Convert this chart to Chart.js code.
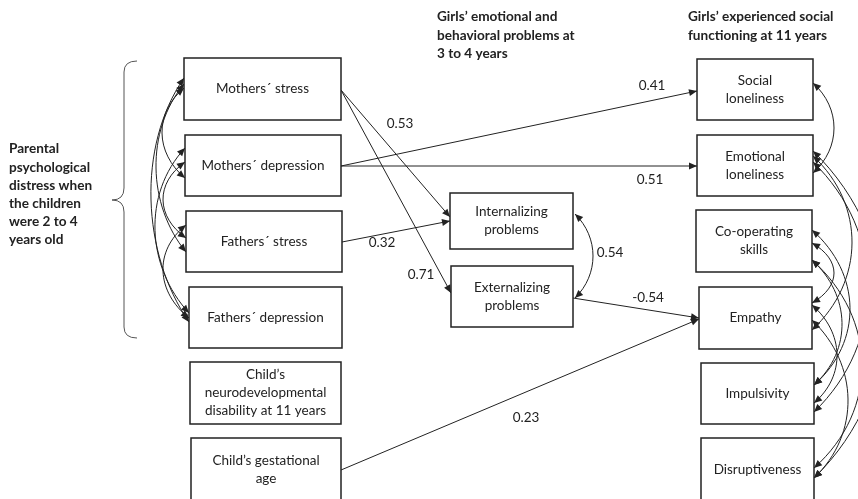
<!DOCTYPE html>
<html>
<head>
<meta charset="utf-8">
<script src="https://cdn.jsdelivr.net/npm/chart.js@4.4.1/dist/chart.umd.min.js"></script>
<style>
  html, body { margin: 0; padding: 0; background: #ffffff; }
  #wrap { width: 858px; height: 499px; position: relative; }
</style>
</head>
<body>
<div id="wrap"><canvas id="diagram"></canvas></div>
<script>
// Variables (boxes) of the path model
const nodeNames = [
  "Mothers´ stress",
  "Mothers´ depression",
  "Fathers´ stress",
  "Fathers´ depression",
  "Child’s\nneurodevelopmental\ndisability at 11 years",
  "Child’s gestational\nage",
  "Internalizing\nproblems",
  "Externalizing\nproblems",
  "Social\nloneliness",
  "Emotional\nloneliness",
  "Co-operating\nskills",
  "Empathy",
  "Impulsivity",
  "Disruptiveness",
];

// Directed paths: index of source, index of target, standardized coefficient
const pathFrom = [0, 0, 1, 1, 2, 7, 5];
const pathTo = [6, 7, 8, 9, 6, 11, 11];
const pathCoefs = [0.53, 0.71, 0.41, 0.51, 0.32, -0.54, 0.23];

// Correlation between the two problem scores
const covPair = [6, 7];
const covCoef = 0.54;

// Group titles
const groupTitles = [
  "Parental\npsychological\ndistress when\nthe children\nwere 2 to 4\nyears old",
  "Girls’ emotional and\nbehavioral problems at\n3 to 4 years",
  "Girls’ experienced social\nfunctioning at 11 years",
];

// ---- layout (pixel units on the hidden 858 x 499 scales) ----
const boxPos = [
  [184, 58, 341, 120], [185, 135, 341, 196], [186, 211, 342, 272], [189, 287, 342, 348],
  [190, 362, 341, 424], [191, 438, 341, 502],
  [450, 193, 573, 249], [451, 266, 573, 327],
  [697, 59, 813, 120], [697, 135, 813, 196], [696, 210, 812, 272],
  [699, 287, 812, 349], [701, 363, 814, 424], [701, 438, 814, 501],
];
// start and end of each straight path
const pathEnds = [
  [341, 90, 450, 217], [341, 90, 451, 293], [341, 166, 697, 91], [341, 166, 697, 166],
  [342, 242, 450, 221], [573, 298, 699, 318], [341, 470, 699, 319],
];
const coefPos = [[400, 124], [421, 275], [652, 86], [650, 180], [382, 243], [648, 298], [526, 418]];
const covLabelPos = [610, 253];
const titlePos = [[9, 149], [437, 17], [688, 17]];

// double-headed curved arrows: x1, y1, x2, y2, furthest x of the bow
const leftCurves = [
  [184, 78, 189, 322, 151], [184, 84, 186, 252, 156], [184, 88, 185, 178, 162],
  [185, 148, 189, 313, 155], [185, 162, 186, 238, 163], [186, 225, 189, 318, 163],
];
const rightCurves = [
  [813, 83, 813, 173, 834], [813, 151, 814, 478, 884], [813, 162, 814, 412, 868],
  [813, 156, 812, 330, 852], [812, 230, 814, 385, 850], [812, 243, 812, 303, 834],
  [812, 260, 814, 468, 862], [812, 320, 814, 478, 848], [812, 305, 814, 403, 837],
  [814, 385, 812, 260, 842],
];

const ink = "#222222";
const boxFont = "13.5px Lato, 'Open Sans', sans-serif";
const boldFont = "bold 13.6px Lato, 'Open Sans', sans-serif";

function drawArrowHead(ctx, tx, ty, fx, fy) {
  const a = Math.atan2(ty - fy, tx - fx);
  const len = 8, half = 3.5;
  ctx.beginPath();
  ctx.moveTo(tx, ty);
  ctx.lineTo(tx - len * Math.cos(a) + half * Math.sin(a), ty - len * Math.sin(a) - half * Math.cos(a));
  ctx.lineTo(tx - len * Math.cos(a) - half * Math.sin(a), ty - len * Math.sin(a) + half * Math.cos(a));
  ctx.closePath();
  ctx.fill();
}

const diagramPlugin = {
  id: "diagram",
  afterDatasetsDraw(chart) {
    const ctx = chart.ctx;
    const xs = chart.scales.x, ys = chart.scales.y;
    const px = (v) => xs.getPixelForValue(v);
    const py = (v) => ys.getPixelForValue(v);
    ctx.save();
    ctx.fillStyle = ink;
    ctx.strokeStyle = ink;

    // arrowheads of straight paths
    pathEnds.forEach((p) => drawArrowHead(ctx, px(p[2]), py(p[3]), px(p[0]), py(p[1])));

    // curved double-headed arrows (cubic bows)
    const curve = (c) => {
      const [x1, y1, x2, y2, bow] = c;
      const d = ((x1 + x2) / 2 - bow) / 0.75;
      const dy = (y2 - y1) * 0.28;
      const c1x = x1 - d, c1y = y1 + dy, c2x = x2 - d, c2y = y2 - dy;
      ctx.lineWidth = 1;
      ctx.beginPath();
      ctx.moveTo(px(x1), py(y1));
      ctx.bezierCurveTo(px(c1x), py(c1y), px(c2x), py(c2y), px(x2), py(y2));
      ctx.stroke();
      drawArrowHead(ctx, px(x1), py(y1), px(c1x), py(c1y));
      drawArrowHead(ctx, px(x2), py(y2), px(c2x), py(c2y));
    };
    leftCurves.forEach(curve);
    rightCurves.forEach(curve);
    const bi = boxPos[covPair[0]], bj = boxPos[covPair[1]];
    curve([bi[2] + 2, 214, bj[2] + 2, 298, 593]);

    // boxes with their labels
    ctx.lineWidth = 1.5;
    ctx.textAlign = "center";
    ctx.textBaseline = "middle";
    ctx.font = boxFont;
    nodeNames.forEach((name, i) => {
      const b = boxPos[i];
      const x0 = px(b[0]), y0 = py(b[1]), x1 = px(b[2]), y1 = py(b[3]);
      ctx.fillStyle = "#ffffff";
      ctx.fillRect(x0, y0, x1 - x0, y1 - y0);
      ctx.strokeRect(x0, y0, x1 - x0, y1 - y0);
      ctx.fillStyle = ink;
      const lines = name.split("\n");
      const cy = (y0 + y1) / 2 - ((lines.length - 1) * 18) / 2;
      lines.forEach((t, k) => ctx.fillText(t, (x0 + x1) / 2, cy + k * 18));
    });

    // coefficients
    ctx.font = boxFont;
    pathCoefs.forEach((c, i) => ctx.fillText(c.toFixed(2), px(coefPos[i][0]), py(coefPos[i][1])));
    ctx.fillText(covCoef.toFixed(2), px(covLabelPos[0]), py(covLabelPos[1]));

    // group titles
    ctx.font = boldFont;
    ctx.textAlign = "left";
    groupTitles.forEach((t, i) => {
      t.split("\n").forEach((line, k) => ctx.fillText(line, px(titlePos[i][0]), py(titlePos[i][1] + k * 18.2)));
    });

    // brace around the parental boxes
    ctx.lineWidth = 1;
    ctx.strokeStyle = "#555555";
    ctx.beginPath();
    ctx.moveTo(px(137), py(61));
    ctx.quadraticCurveTo(px(124), py(61), px(124), py(72));
    ctx.lineTo(px(124), py(188));
    ctx.quadraticCurveTo(px(124), py(200), px(112), py(200));
    ctx.quadraticCurveTo(px(124), py(200), px(124), py(212));
    ctx.lineTo(px(124), py(327));
    ctx.quadraticCurveTo(px(124), py(338), px(137), py(338));
    ctx.stroke();
    ctx.restore();
  },
};

// one line dataset for each directed path
const datasets = pathCoefs.map((c, i) => ({
  label: nodeNames[pathFrom[i]] + " → " + nodeNames[pathTo[i]],
  data: [
    { x: pathEnds[i][0], y: pathEnds[i][1] },
    { x: pathEnds[i][2], y: pathEnds[i][3] },
  ],
  showLine: true,
  borderColor: ink,
  borderWidth: 1,
  pointRadius: 0,
}));

new Chart(document.getElementById("diagram"), {
  type: "scatter",
  data: { datasets: datasets },
  options: {
    responsive: true,
    maintainAspectRatio: false,
    animation: false,
    layout: { padding: 0 },
    plugins: { legend: { display: false }, tooltip: { enabled: false } },
    scales: {
      x: { type: "linear", min: 0, max: 858, display: false },
      y: { type: "linear", min: 0, max: 499, reverse: true, display: false },
    },
  },
  plugins: [diagramPlugin],
});
</script>
</body>
</html>
